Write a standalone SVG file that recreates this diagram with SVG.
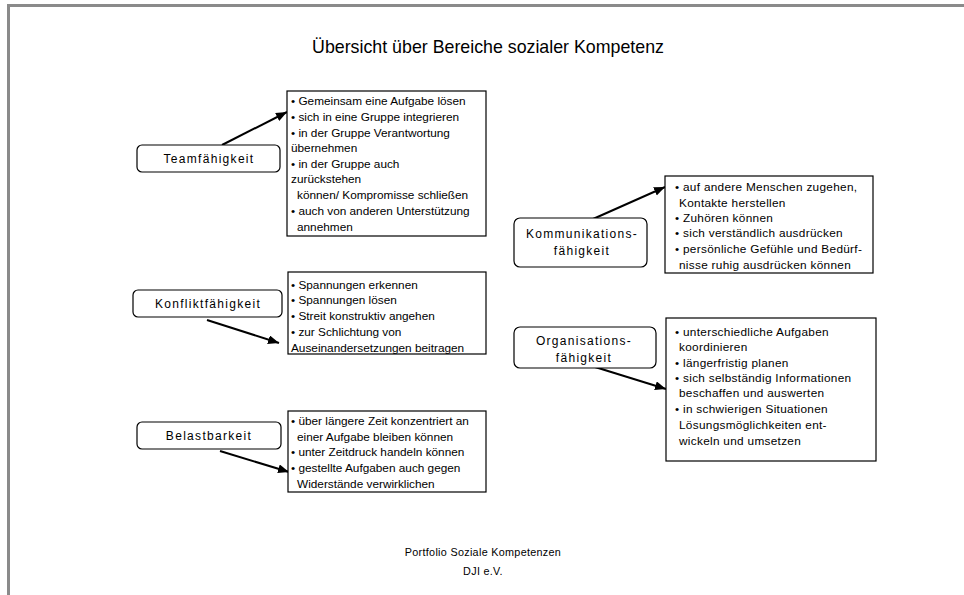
<svg xmlns="http://www.w3.org/2000/svg" width="964" height="595" viewBox="0 0 964 595">
<style>
.t{font-family:"Liberation Sans",Arial,sans-serif;fill:#000}
.title{font-size:17.8px}
.lbl{font-size:12px;letter-spacing:1.3px}
.li{font-size:11.8px}
.lr{font-size:11.8px;letter-spacing:0.3px}
.ft{font-size:10.8px;letter-spacing:0.3px}
.box{fill:#fff;stroke:#000;stroke-width:1.2}
.node{fill:#fff;stroke:#000;stroke-width:1.2}
.con{stroke:#000;stroke-width:2;fill:none}
</style>
<defs>
<marker id="ah" markerUnits="userSpaceOnUse" markerWidth="12" markerHeight="10" refX="11" refY="4.5" orient="auto">
<path d="M0,0 L11,4.5 L0,9 Z" fill="#000"/>
</marker>
</defs>
<rect x="0" y="0" width="964" height="595" fill="#fff"/>
<rect x="7" y="4" width="957" height="3" fill="#8a8a8a"/>
<rect x="7" y="4" width="3" height="591" fill="#8a8a8a"/>
<text class="t title" x="488" y="53" text-anchor="middle">Übersicht über Bereiche sozialer Kompetenz</text>

<g id="connectors">
<line class="con" x1="222" y1="145" x2="287" y2="112" marker-end="url(#ah)"/>
<line class="con" x1="207" y1="320" x2="279" y2="343" marker-end="url(#ah)"/>
<line class="con" x1="220" y1="451" x2="289" y2="472" marker-end="url(#ah)"/>
<line class="con" x1="593" y1="219" x2="665" y2="187" marker-end="url(#ah)"/>
<line class="con" x1="595" y1="367" x2="666" y2="389" marker-end="url(#ah)"/>
</g>

<g id="teamfaehigkeit">
<rect class="node" x="137" y="145" width="143" height="27" rx="5"/>
<text class="t lbl" x="209" y="163" text-anchor="middle">Teamfähigkeit</text>
</g>
<g id="team-list">
<rect class="box" x="287" y="91" width="199" height="145"/>
<text class="t li">
<tspan x="291" y="105">• Gemeinsam eine Aufgabe lösen</tspan>
<tspan x="291" y="121">• sich in eine Gruppe integrieren</tspan>
<tspan x="291" y="137">• in der Gruppe Verantwortung</tspan>
<tspan x="291" y="152">übernehmen</tspan>
<tspan x="291" y="168">• in der Gruppe auch</tspan>
<tspan x="291" y="183">zurückstehen</tspan>
<tspan x="297" y="199">können/ Kompromisse schließen</tspan>
<tspan x="291" y="215">• auch von anderen Unterstützung</tspan>
<tspan x="297" y="231">annehmen</tspan>
</text>
</g>

<g id="konfliktfaehigkeit">
<rect class="node" x="133" y="290" width="149" height="27" rx="5"/>
<text class="t lbl" x="208" y="308" text-anchor="middle">Konfliktfähigkeit</text>
</g>
<g id="konflikt-list">
<rect class="box" x="288" y="272" width="198" height="82"/>
<text class="t li">
<tspan x="291" y="289">• Spannungen erkennen</tspan>
<tspan x="291" y="304">• Spannungen lösen</tspan>
<tspan x="291" y="320">• Streit konstruktiv angehen</tspan>
<tspan x="291" y="336">• zur Schlichtung von</tspan>
<tspan x="291" y="352">Auseinandersetzungen beitragen</tspan>
</text>
</g>

<g id="belastbarkeit">
<rect class="node" x="137" y="422" width="144" height="27" rx="5"/>
<text class="t lbl" x="209" y="440" text-anchor="middle">Belastbarkeit</text>
</g>
<g id="belast-list">
<rect class="box" x="288" y="411" width="198" height="81"/>
<text class="t li">
<tspan x="291" y="425">• über längere Zeit konzentriert an</tspan>
<tspan x="297" y="441">einer Aufgabe bleiben können</tspan>
<tspan x="291" y="456">• unter Zeitdruck handeln können</tspan>
<tspan x="291" y="472">• gestellte Aufgaben auch gegen</tspan>
<tspan x="297" y="488">Widerstände verwirklichen</tspan>
</text>
</g>

<g id="kommunikationsfaehigkeit">
<rect class="node" x="514" y="218" width="133" height="49" rx="6"/>
<text class="t lbl" x="582" y="238" text-anchor="middle">Kommunikations-</text>
<text class="t lbl" x="582" y="255" text-anchor="middle">fähigkeit</text>
</g>
<g id="komm-list">
<rect class="box" x="665" y="176" width="208" height="97"/>
<text class="t lr">
<tspan x="675" y="191">• auf andere Menschen zugehen,</tspan>
<tspan x="679" y="207">Kontakte herstellen</tspan>
<tspan x="675" y="222">• Zuhören können</tspan>
<tspan x="675" y="237">• sich verständlich ausdrücken</tspan>
<tspan x="675" y="253">• persönliche Gefühle und Bedürf-</tspan>
<tspan x="679" y="269">nisse ruhig ausdrücken können</tspan>
</text>
</g>

<g id="organisationsfaehigkeit">
<rect class="node" x="514" y="327" width="142" height="41" rx="6"/>
<text class="t lbl" x="584" y="345" text-anchor="middle">Organisations-</text>
<text class="t lbl" x="584" y="362" text-anchor="middle">fähigkeit</text>
</g>
<g id="org-list">
<rect class="box" x="666" y="318" width="210" height="143"/>
<text class="t lr">
<tspan x="675" y="336">• unterschiedliche Aufgaben</tspan>
<tspan x="679" y="351">koordinieren</tspan>
<tspan x="675" y="367">• längerfristig planen</tspan>
<tspan x="675" y="382">• sich selbständig Informationen</tspan>
<tspan x="679" y="397">beschaffen und auswerten</tspan>
<tspan x="675" y="413">• in schwierigen Situationen</tspan>
<tspan x="679" y="429">Lösungsmöglichkeiten ent-</tspan>
<tspan x="679" y="445">wickeln und umsetzen</tspan>
</text>
</g>

<text class="t ft" x="483" y="556" text-anchor="middle">Portfolio Soziale Kompetenzen</text>
<text class="t ft" x="483" y="575" text-anchor="middle">DJI e.V.</text>
</svg>
